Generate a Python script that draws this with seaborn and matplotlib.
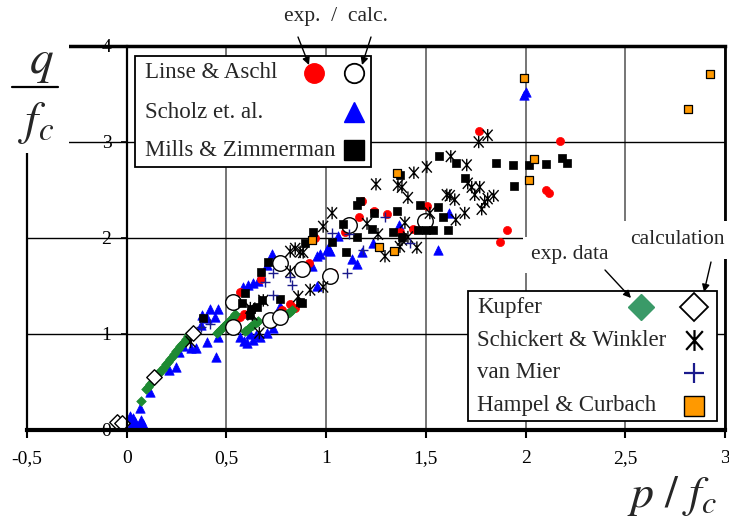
import matplotlib
matplotlib.use("Agg")
import matplotlib.pyplot as plt
import seaborn as sns
import pandas as pd
from matplotlib.lines import Line2D
from matplotlib.patches import Rectangle, FancyArrowPatch
from matplotlib.path import Path

# ---------------- data ----------------
x_ticks = [-0.5, 0, 0.5, 1, 1.5, 2, 2.5, 3]
x_tick_labels = ["-0,5", "0", "0,5", "1", "1,5", "2", "2,5", "3"]
y_ticks = [0, 1, 2, 3, 4]
y_tick_labels = ["0", "1", "2", "3", "4"]

scholz_x = [0.02, 0.04, 0.06, 0.03, 0.07, 0.015, 0.05, 0.08, 0.065, 0.115, 0.21, 0.245, 0.26, 0.28,
            0.32, 0.345, 0.37, 0.405, 0.45, 0.405, 0.38, 0.445, 0.42, 0.46, 0.46, 0.57, 0.605, 0.635,
            0.67, 0.705, 0.735, 0.59, 0.62, 0.65, 0.585, 0.61, 0.635, 0.66, 0.705, 0.73, 0.77, 0.93,
            0.955, 0.955, 0.97, 1.005, 1.01, 1.02, 1.06, 1.13, 1.155, 1.18, 1.235, 1.365, 1.56, 1.615,
            1.99, 2.0]
scholz_y = [0.05, 0.08, 0.05, 0.13, 0.10, 0.15, 0.03, 0.06, 0.23, 0.40, 0.62, 0.66, 0.81, 0.87,
            0.85, 0.85, 1.09, 0.92, 0.76, 1.17, 1.20, 1.18, 1.26, 1.26, 0.97, 0.97, 0.91, 0.94,
            0.97, 1.01, 1.06, 0.93, 1.00, 0.99, 1.49, 1.51, 1.53, 1.55, 1.72, 1.83, 1.29, 1.71,
            1.50, 1.81, 1.83, 1.875, 1.90, 1.86, 2.02, 1.78, 1.73, 1.85, 1.95, 2.14, 1.88, 2.26,
            3.49, 3.52]

linse_exp_x = [0.55, 0.57, 0.59, 0.57, 0.675, 0.78, 0.82, 0.845, 0.915, 0.945, 1.035, 1.095, 1.165,
               1.18, 1.24, 1.305, 1.37, 1.435, 1.505, 1.765, 1.87, 1.905, 2.10, 2.115, 2.175]
linse_exp_y = [1.16, 1.18, 1.21, 1.44, 1.57, 1.25, 1.31, 1.27, 1.74, 2.00, 1.64, 2.06, 2.22,
               2.39, 2.28, 2.25, 2.06, 2.09, 2.33, 3.11, 1.96, 2.08, 2.50, 2.47, 3.01]

kupfer_exp_x = [-0.06, -0.05, 0.07, 0.095, 0.105, 0.115, 0.125, 0.135, 0.145, 0.155, 0.165, 0.175,
                0.185, 0.195, 0.205, 0.215, 0.225, 0.235, 0.245, 0.255, 0.265, 0.275, 0.285, 0.295,
                0.305, 0.31, 0.455, 0.465, 0.475, 0.485, 0.495, 0.505, 0.515, 0.525, 0.535, 0.545,
                0.595, 0.605, 0.615, 0.625, 0.635, 0.645, 0.655, 0.66,
                0.77, 0.78, 0.79, 0.80, 0.81, 0.82, 0.83]
kupfer_exp_y = [0.07, 0.09, 0.30, 0.43, 0.45, 0.48, 0.50, 0.53, 0.56, 0.58, 0.61, 0.63,
                0.66, 0.69, 0.71, 0.74, 0.76, 0.79, 0.82, 0.84, 0.87, 0.90, 0.92, 0.95,
                0.98, 1.00, 1.01, 1.03, 1.05, 1.07, 1.09, 1.11, 1.13, 1.16, 1.18, 1.21,
                1.03, 1.04, 1.06, 1.08, 1.09, 1.11, 1.13, 1.14,
                1.16, 1.17, 1.19, 1.20, 1.22, 1.23, 1.25]

linse_calc_x = [0.535, 0.535, 0.72, 0.77, 0.77, 0.88, 1.02, 1.115, 1.495]
linse_calc_y = [1.07, 1.33, 1.15, 1.18, 1.74, 1.68, 1.60, 2.14, 2.18]

mills_x = [0.385, 0.58, 0.595, 0.62, 0.625, 0.655, 0.675, 0.68, 0.71, 0.77, 0.87, 0.88, 0.895,
           0.935, 1.03, 1.085, 1.10, 1.155, 1.155, 1.17, 1.23, 1.24, 1.335, 1.355, 1.37, 1.38,
           1.46, 1.47, 1.50, 1.535, 1.56, 1.585, 1.61, 1.565, 1.65, 1.695, 1.85, 1.935, 1.94,
           2.015, 2.10, 2.185, 2.21]
mills_y = [1.17, 1.32, 1.43, 1.20, 1.26, 1.28, 1.65, 1.35, 1.75, 1.36, 1.33, 1.32, 1.95,
           2.06, 1.96, 2.15, 1.85, 2.01, 2.34, 2.39, 2.09, 2.26, 2.06, 2.28, 2.66, 2.01,
           2.08, 2.34, 2.08, 2.08, 2.32, 2.22, 2.08, 2.85, 2.78, 2.62, 2.78, 2.76, 2.54,
           2.76, 2.77, 2.83, 2.78]

schick_x = [0.32, 0.62, 0.63, 0.665, 0.685, 0.82, 0.82, 0.845, 0.87, 0.86, 0.885, 0.92, 0.985,
            0.985, 1.03, 1.205, 1.25, 1.26, 1.295, 1.36, 1.37, 1.38, 1.38, 1.395, 1.41, 1.41,
            1.44, 1.455, 1.505, 1.52, 1.605, 1.62, 1.625, 1.645, 1.65, 1.695, 1.705, 1.71, 1.73,
            1.745, 1.765, 1.77, 1.78, 1.795, 1.81, 1.81, 1.84]
schick_y = [0.92, 1.27, 1.20, 1.01, 1.35, 1.65, 1.86, 1.89, 1.855, 1.39, 1.85, 1.46, 1.49,
            2.12, 2.26, 2.15, 2.56, 2.04, 1.81, 2.55, 1.91, 1.98, 2.53, 2.16, 2.42, 2.01,
            2.68, 1.90, 2.74, 2.26, 2.45, 2.44, 2.85, 2.40, 2.19, 2.26, 2.76, 2.57, 2.53,
            2.45, 3.00, 2.53, 2.30, 2.375, 2.41, 3.07, 2.44]

vanmier_x = [0.37, 0.42, 0.695, 0.735, 0.735, 0.82, 0.83, 1.03, 1.105, 1.115, 1.185, 1.295, 1.42]
vanmier_y = [1.07, 1.10, 1.54, 1.64, 1.41, 1.59, 1.51, 2.05, 1.64, 2.04, 1.875, 2.22, 1.95]

hampel_x = [0.93, 1.265, 1.34, 1.355, 1.99, 2.015, 2.04, 2.815, 2.925]
hampel_y = [1.98, 1.91, 1.86, 2.68, 3.67, 2.60, 2.82, 3.34, 3.71]

kupfer_calc_x = [-0.05, -0.025, 0.135, 0.33]
kupfer_calc_y = [0.08, 0.07, 0.55, 1.01]

legend1_labels = ["Linse & Aschl", "Scholz et. al.", "Mills & Zimmerman"]
legend2_labels = ["Kupfer", "Schickert & Winkler", "van Mier", "Hampel & Curbach"]

# ---------------- style ----------------
sns.set_theme(style="white")
plt.rcParams["font.family"] = ["Liberation Serif", "DejaVu Serif"]
plt.rcParams["mathtext.fontset"] = "stix"

W, H = 729, 522
fig = plt.figure(figsize=(W / 100, H / 100), dpi=100)
ax = fig.add_axes([27 / W, 1 - 430 / H, (725 - 27) / W, (430 - 46) / H])


def P(px, py):
    return (px / W, 1 - py / H)


# asterisk: X with a vertical stroke
ASTER = Path([(0, -1), (0, 1), (-0.8, -0.9), (0.8, 0.9), (-0.8, 0.9), (0.8, -0.9)],
             [Path.MOVETO, Path.LINETO, Path.MOVETO, Path.LINETO, Path.MOVETO, Path.LINETO])

series = [
    (scholz_x, scholz_y, dict(marker="^", s=46, color="#0000ff", edgecolor="#0000ff", linewidth=0.5), 3),
    (linse_exp_x, linse_exp_y, dict(marker="o", s=34, color="#ff0000", edgecolor="#ff0000", linewidth=0.5), 4),
    (kupfer_exp_x, kupfer_exp_y, dict(marker="D", s=24, color="#1e8a32", edgecolor="#1e8a32", linewidth=0.5), 5),
    (linse_calc_x, linse_calc_y, dict(marker="o", s=125, color="white", edgecolor="black", linewidth=1.0), 6),
    (mills_x, mills_y, dict(marker="s", s=40, color="black", edgecolor="black", linewidth=0.5), 7),
    (schick_x, schick_y, dict(marker=ASTER, s=80, color="black", edgecolor="black", facecolor="none", linewidth=1.0), 8),
    (vanmier_x, vanmier_y, dict(marker="+", s=60, color="#1a1a8c", linewidth=1.0), 9),
    (hampel_x, hampel_y, dict(marker="s", s=28, color="#ff9900", edgecolor="black", linewidth=0.9), 10),
    (kupfer_calc_x, kupfer_calc_y, dict(marker="D", s=62, color="white", edgecolor="black", linewidth=1.0), 11),
]
for xs, ys, kw, z in series:
    df = pd.DataFrame({"x": xs, "y": ys})
    sns.scatterplot(data=df, x="x", y="y", ax=ax, zorder=z, legend=False, **kw)

ax.set_xlim(-0.5, 3)
ax.set_ylim(0, 4)
ax.set_xlabel("")
ax.set_ylabel("")

# axes / spines
ax.spines["left"].set_position(("data", 0))
ax.spines["left"].set_linewidth(1.6)
ax.spines["bottom"].set_linewidth(3.0)
ax.spines["top"].set_linewidth(2.5)
ax.spines["right"].set_linewidth(2.0)
for s in ax.spines.values():
    s.set_color("black")
    s.set_zorder(12)
ax.axvline(-0.5, color="black", lw=1.6, clip_on=False, zorder=12)

ax.set_xticks(x_ticks)
ax.set_xticklabels(x_tick_labels)
ax.set_yticks(y_ticks)
ax.set_yticklabels(y_tick_labels)
ax.tick_params(axis="x", bottom=True, direction="out", length=6, width=1.5, pad=8.5,
               labelsize=14, colors="black")
ax.tick_params(axis="y", left=True, direction="out", length=4.5, width=1.2, pad=6.5,
               labelsize=14, colors="black")

ax.set_axisbelow(True)
ax.xaxis.grid(True, color="#505050", lw=1.1)
ax.yaxis.grid(True, color="black", lw=1.0)

# white area behind y label
fig.add_artist(Rectangle((0, 1 - 153 / H), 69 / W, 153 / H, transform=fig.transFigure,
                         fc="white", ec="none", zorder=20))
fig.text(*P(41, 73), r"$q$", fontsize=34, ha="center", va="baseline", zorder=21)
fig.add_artist(Line2D([12 / W, 58 / W], [1 - 87 / H, 1 - 87 / H], transform=fig.transFigure,
                      color="black", lw=1.6, zorder=21))
fig.text(*P(36, 134), r"$f_c$", fontsize=34, ha="center", va="baseline", zorder=21)

# x label
fig.text(*P(717, 507), r"$p\ /\ f_c$", fontsize=33, ha="right", va="baseline", zorder=21)

# ---------------- legend 1 ----------------
fig.add_artist(Rectangle(P(135, 167), 236 / W, 111 / H, transform=fig.transFigure,
                         fc="white", ec="black", lw=1.3, zorder=20))
for lab, py in zip(legend1_labels, [73, 112, 150]):
    fig.text(*P(145, py), lab, fontsize=16.5, ha="left", va="center", zorder=21)


def mk(px, py, **kw):
    fig.add_artist(Line2D([px / W], [1 - py / H], transform=fig.transFigure, ls="none",
                          zorder=21, **kw))


mk(314, 73, marker="o", ms=14, mfc="#ff0000", mec="#ff0000")
mk(354, 73, marker="o", ms=14, mfc="white", mec="black", mew=1.3)
mk(354, 112, marker="^", ms=14, mfc="#0000ff", mec="#0000ff")
mk(354, 150, marker="s", ms=14, mfc="black", mec="black")

fig.text(*P(336, 17), "exp.  /  calc.", fontsize=15.5, ha="center", va="center", zorder=21)
for (a, b) in [((298, 37), (309, 65)), ((371, 37), (362, 65))]:
    fig.add_artist(FancyArrowPatch(P(*a), P(*b), transform=fig.transFigure, arrowstyle="-|>",
                                   mutation_scale=11, lw=1.0, color="black", zorder=22,
                                   shrinkA=0, shrinkB=0))

# ---------------- legend 2 ----------------
fig.add_artist(Rectangle(P(540, 290), 92 / W, 56 / H, transform=fig.transFigure,
                         fc="white", ec="none", zorder=19))
fig.add_artist(Rectangle(P(468, 421), 249 / W, 130 / H, transform=fig.transFigure,
                         fc="white", ec="black", lw=1.3, zorder=20))
for lab, py in zip(legend2_labels, [307, 340, 373, 406]):
    fig.text(*P(477, py), lab, fontsize=16.5, ha="left", va="center", zorder=21)
mk(641, 307, marker="D", ms=13.5, mfc="#3a9a68", mec="#3a9a68")
mk(694, 307, marker="D", ms=14, mfc="white", mec="black", mew=1.3)
mk(694, 340, marker=ASTER, ms=15, mec="black", mfc="none", mew=1.6)
mk(694, 373, marker="+", ms=15, mec="#1a1a8c", mew=1.6)
mk(694, 406, marker="s", ms=14, mfc="#ff9900", mec="black", mew=1.0)

fig.text(*P(570, 255), "exp. data", fontsize=15.5, ha="center", va="center", zorder=21,
         bbox=dict(fc="white", ec="none", pad=6))
fig.text(*P(677, 240), "calculation", fontsize=15.5, ha="center", va="center", zorder=21,
         bbox=dict(fc="white", ec="none", pad=7))
for (a, b) in [((605, 270), (631, 298)), ((711, 262), (704, 292))]:
    fig.add_artist(FancyArrowPatch(P(*a), P(*b), transform=fig.transFigure, arrowstyle="-|>",
                                   mutation_scale=11, lw=1.0, color="black", zorder=22,
                                   shrinkA=0, shrinkB=0))

fig.savefig("out.png", dpi=100)
